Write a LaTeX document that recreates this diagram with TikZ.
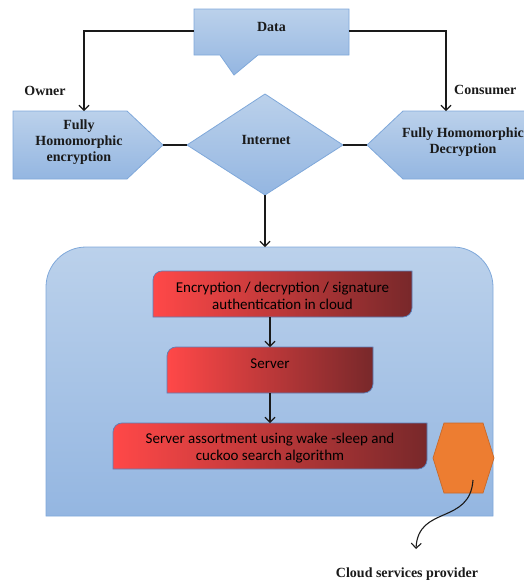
\documentclass[tikz,border=0pt]{standalone}
\usepackage{fontspec}
\setmainfont{Liberation Serif}
\newfontfamily\calib{Carlito}
\usetikzlibrary{arrows.meta}
\definecolor{bluetop}{HTML}{BBD1EB}
\definecolor{bluebot}{HTML}{94B6E1}
\definecolor{blueedge}{HTML}{7FA8DA}
\definecolor{redl}{HTML}{FF4848}
\definecolor{redr}{HTML}{78282A}
\definecolor{rededge}{HTML}{5B7FB8}
\definecolor{hexfill}{HTML}{ED7D31}
\definecolor{hexedge}{HTML}{C8692A}
\definecolor{ink}{HTML}{1A1A1A}
\tikzset{
  bluebox/.style={top color=bluetop, bottom color=bluebot, draw=blueedge, line width=0.8pt},
  redbox/.style={left color=redl, right color=redr, draw=rededge, line width=0.7pt},
  lbl/.style={font=\bfseries\fontsize{14}{16}\selectfont, text=ink, align=center, inner sep=0pt},
  inlbl/.style={font=\calib\fontsize{15}{17.5}\selectfont, text=black, align=center, inner sep=0pt},
  conn/.style={draw=ink, line width=1.1pt},
  arr/.style={conn, -{Straight Barb[length=5pt,width=10pt]}},
  holder/.style={inner sep=0pt, outer sep=0pt}
}
\begin{document}
\begin{tikzpicture}[x=1pt,y=-1pt]
\useasboundingbox (0,0) rectangle (523,582);

% Data callout
\path[bluebox] (194,9) -- (349,9) -- (349,55) -- (258,55) -- (234,75) -- (220,55) -- (194,55) -- cycle;
\node[lbl] (data) at (271.5,27) {Data};
\coordinate (dataL) at (194,31);
\coordinate (dataR) at (349,31);

% left pentagon
\path[bluebox] (13,111) -- (127,111) -- (163,145) -- (127,179) -- (13,179) -- cycle;
\node[lbl] (enc) at (79,142) {Fully\\Homomorphic\\encryption};
\coordinate (encTop) at (84,111);
\coordinate (encR) at (163,145);

% diamond
\path[bluebox] (265,94) -- (343,145) -- (265,195) -- (187,145) -- cycle;
\node[lbl] (inet) at (266,140) {Internet};
\coordinate (inetL) at (187,145);
\coordinate (inetR) at (343,145);
\coordinate (inetB) at (265,195);

% right pentagon
\path[bluebox] (367,145) -- (403,111) -- (530,111) -- (530,179) -- (403,179) -- cycle;
\node[lbl] (dec) at (463,142) {Fully Homomorphic\\Decryption};
\coordinate (decTop) at (446,111);
\coordinate (decL) at (367,145);

% labels
\node[lbl] (owner) at (45,91) {Owner};
\node[lbl, anchor=west] (consumer) at (454,90) {Consumer};

% connectors top
\draw[arr] (dataL) -| (encTop);
\draw[arr] (dataR) -| (decTop);
\draw[conn] (encR) -- (inetL);
\draw[conn] (inetR) -- (decL);

% cloud box
\path[bluebox] (46,516) -- (46,287) .. controls (46,265) and (64,247) .. (86,247) -- (453,247) .. controls (475,247) and (493,265) .. (493,287) -- (493,516) -- cycle;
\coordinate (cloudTop) at (265,247);
\draw[arr] (inetB) -- (cloudTop);

% red boxes
\path[redbox] (153,280) .. controls (153,275) and (157,271) .. (162,271) -- (412,271) -- (412,308) .. controls (412,313) and (408,317) .. (403,317) -- (153,317) -- cycle;
\node[holder, minimum width=259pt, minimum height=46pt] (b1) at (282.5,294) {};
\node[inlbl] (t1) at (282.5,296) {Encryption / decryption / signature\\authentication in cloud};

\path[redbox] (167,356) .. controls (167,351) and (171,347) .. (176,347) -- (373,347) -- (373,384) .. controls (373,389) and (369,393) .. (364,393) -- (167,393) -- cycle;
\node[holder, minimum width=206pt, minimum height=46pt] (b2) at (270,370) {};
\node[inlbl] (t2) at (270,364) {Server};

\path[redbox] (113,432) .. controls (113,427) and (117,423) .. (122,423) -- (427,423) -- (427,460) .. controls (427,465) and (423,469) .. (418,469) -- (113,469) -- cycle;
\node[holder, minimum width=314pt, minimum height=46pt] (b3) at (270,446) {};
\node[inlbl] (t3) at (270,448) {Server assortment using wake -sleep and\\cuckoo search algorithm};

\draw[arr] (b1.south -| b2.north) -- (b2.north);
\draw[arr] (b2.south) -- (b3.north);

% hexagon
\path[fill=hexfill, draw=hexedge, line width=0.7pt] (433,458) -- (444,423) -- (483,423) -- (494,458) -- (483,493) -- (444,493) -- cycle;
\coordinate (hexIn) at (473,480);

% cloud services provider
\node[lbl] (csp) at (407,574) {Cloud services provider};
\coordinate (cspTip) at (416,549);
\draw[arr] (hexIn) .. controls (470,525) and (418,505) .. (cspTip);
\end{tikzpicture}
\end{document}
